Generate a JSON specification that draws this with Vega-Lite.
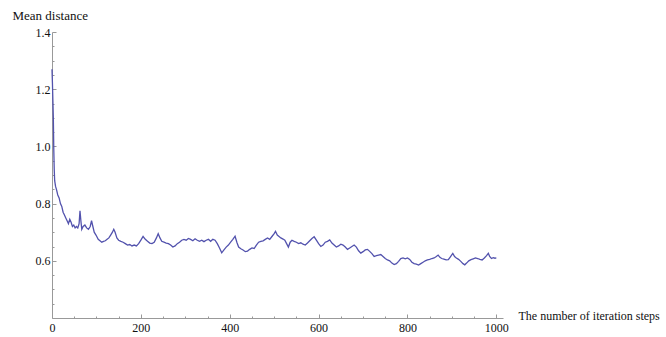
{
  "$schema": "https://vega.github.io/schema/vega-lite/v6.json",
  "autosize": "none",
  "width": 451,
  "height": 286,
  "padding": {"left": 52, "top": 32, "right": 163, "bottom": 19},
  "background": "white",
  "config": {"view": {"stroke": null}, "font": "Liberation Serif"},
  "data": {"values": [
    {"it":0,"d":1.27},{"it":1,"d":1.22},{"it":2,"d":1.16},{"it":3,"d":1.10},{"it":4,"d":0.99},{"it":5,"d":0.92},{"it":6,"d":0.88},{"it":8,"d":0.86},{"it":10,"d":0.85},{"it":13,"d":0.83},{"it":16,"d":0.82},{"it":19,"d":0.80},{"it":22,"d":0.79},{"it":25,"d":0.77},{"it":28,"d":0.76},{"it":31,"d":0.75},{"it":34,"d":0.74},{"it":37,"d":0.73},{"it":40,"d":0.745},{"it":43,"d":0.735},{"it":46,"d":0.72},{"it":49,"d":0.725},{"it":52,"d":0.715},{"it":55,"d":0.72},{"it":58,"d":0.715},{"it":61,"d":0.73},{"it":63,"d":0.775},{"it":65,"d":0.74},{"it":67,"d":0.71},{"it":70,"d":0.72},{"it":74,"d":0.725},{"it":78,"d":0.715},{"it":82,"d":0.71},{"it":86,"d":0.72},{"it":89,"d":0.74},{"it":92,"d":0.72},{"it":95,"d":0.70},{"it":99,"d":0.69},{"it":104,"d":0.675},{"it":108,"d":0.67},{"it":112,"d":0.665},{"it":116,"d":0.668},{"it":120,"d":0.67},{"it":124,"d":0.675},{"it":128,"d":0.68},{"it":132,"d":0.69},{"it":136,"d":0.70},{"it":139,"d":0.71},{"it":142,"d":0.70},{"it":146,"d":0.68},{"it":150,"d":0.672},{"it":155,"d":0.668},{"it":160,"d":0.665},{"it":165,"d":0.66},{"it":170,"d":0.655},{"it":175,"d":0.657},{"it":180,"d":0.652},{"it":185,"d":0.655},{"it":190,"d":0.652},{"it":195,"d":0.66},{"it":200,"d":0.672},{"it":205,"d":0.685},{"it":210,"d":0.675},{"it":215,"d":0.668},{"it":220,"d":0.662},{"it":225,"d":0.66},{"it":230,"d":0.665},{"it":235,"d":0.68},{"it":239,"d":0.695},{"it":243,"d":0.68},{"it":247,"d":0.668},{"it":252,"d":0.665},{"it":257,"d":0.662},{"it":262,"d":0.66},{"it":267,"d":0.655},{"it":272,"d":0.648},{"it":277,"d":0.652},{"it":282,"d":0.66},{"it":287,"d":0.665},{"it":292,"d":0.672},{"it":297,"d":0.675},{"it":302,"d":0.672},{"it":307,"d":0.678},{"it":312,"d":0.675},{"it":317,"d":0.67},{"it":322,"d":0.677},{"it":327,"d":0.672},{"it":332,"d":0.668},{"it":337,"d":0.672},{"it":342,"d":0.667},{"it":347,"d":0.672},{"it":352,"d":0.675},{"it":357,"d":0.668},{"it":362,"d":0.675},{"it":367,"d":0.672},{"it":372,"d":0.66},{"it":377,"d":0.645},{"it":382,"d":0.628},{"it":387,"d":0.638},{"it":392,"d":0.648},{"it":397,"d":0.655},{"it":402,"d":0.665},{"it":407,"d":0.675},{"it":412,"d":0.686},{"it":416,"d":0.665},{"it":420,"d":0.648},{"it":425,"d":0.642},{"it":430,"d":0.638},{"it":435,"d":0.632},{"it":440,"d":0.634},{"it":445,"d":0.64},{"it":450,"d":0.645},{"it":455,"d":0.643},{"it":460,"d":0.655},{"it":465,"d":0.665},{"it":470,"d":0.668},{"it":475,"d":0.67},{"it":480,"d":0.675},{"it":485,"d":0.68},{"it":490,"d":0.675},{"it":495,"d":0.685},{"it":500,"d":0.695},{"it":503,"d":0.703},{"it":507,"d":0.69},{"it":511,"d":0.685},{"it":515,"d":0.68},{"it":520,"d":0.676},{"it":524,"d":0.672},{"it":528,"d":0.66},{"it":532,"d":0.648},{"it":536,"d":0.665},{"it":540,"d":0.672},{"it":545,"d":0.668},{"it":550,"d":0.665},{"it":555,"d":0.66},{"it":560,"d":0.663},{"it":565,"d":0.658},{"it":570,"d":0.655},{"it":575,"d":0.662},{"it":580,"d":0.67},{"it":585,"d":0.678},{"it":590,"d":0.684},{"it":595,"d":0.672},{"it":600,"d":0.66},{"it":605,"d":0.65},{"it":610,"d":0.655},{"it":615,"d":0.665},{"it":620,"d":0.668},{"it":625,"d":0.673},{"it":630,"d":0.662},{"it":635,"d":0.655},{"it":640,"d":0.648},{"it":645,"d":0.652},{"it":650,"d":0.658},{"it":655,"d":0.655},{"it":660,"d":0.648},{"it":665,"d":0.64},{"it":670,"d":0.645},{"it":675,"d":0.65},{"it":680,"d":0.655},{"it":685,"d":0.648},{"it":690,"d":0.635},{"it":695,"d":0.627},{"it":700,"d":0.632},{"it":705,"d":0.638},{"it":710,"d":0.64},{"it":715,"d":0.633},{"it":720,"d":0.625},{"it":725,"d":0.615},{"it":730,"d":0.618},{"it":735,"d":0.62},{"it":740,"d":0.622},{"it":745,"d":0.615},{"it":750,"d":0.608},{"it":755,"d":0.603},{"it":760,"d":0.6},{"it":765,"d":0.592},{"it":770,"d":0.587},{"it":775,"d":0.59},{"it":780,"d":0.598},{"it":785,"d":0.608},{"it":790,"d":0.61},{"it":795,"d":0.607},{"it":800,"d":0.61},{"it":805,"d":0.605},{"it":810,"d":0.595},{"it":815,"d":0.59},{"it":820,"d":0.588},{"it":825,"d":0.585},{"it":830,"d":0.59},{"it":835,"d":0.595},{"it":840,"d":0.6},{"it":845,"d":0.603},{"it":850,"d":0.605},{"it":855,"d":0.608},{"it":860,"d":0.61},{"it":865,"d":0.615},{"it":869,"d":0.62},{"it":873,"d":0.612},{"it":877,"d":0.608},{"it":882,"d":0.606},{"it":887,"d":0.603},{"it":892,"d":0.604},{"it":897,"d":0.615},{"it":902,"d":0.626},{"it":906,"d":0.615},{"it":910,"d":0.61},{"it":915,"d":0.605},{"it":920,"d":0.598},{"it":925,"d":0.59},{"it":929,"d":0.586},{"it":933,"d":0.592},{"it":938,"d":0.6},{"it":943,"d":0.604},{"it":948,"d":0.607},{"it":953,"d":0.61},{"it":958,"d":0.608},{"it":963,"d":0.605},{"it":968,"d":0.603},{"it":973,"d":0.61},{"it":978,"d":0.618},{"it":982,"d":0.626},{"it":985,"d":0.615},{"it":989,"d":0.608},{"it":993,"d":0.611},{"it":997,"d":0.609},{"it":1000,"d":0.61}
  ]},
  "mark": {"type": "line", "color": "#5252ad", "strokeWidth": 1.3, "interpolate": "linear"},
  "encoding": {
    "x": {
      "field": "it", "type": "quantitative",
      "scale": {"domain": [0, 1015], "nice": false, "zero": false},
      "axis": {
        "values": [0,50,100,150,200,250,300,350,400,450,500,550,600,650,700,750,800,850,900,950,1000],
        "labelExpr": "datum.value % 200 === 0 ? format(datum.value, 'd') : ''",
        "grid": false,
        "domainColor": "#999999",
        "tickColor": "#999999",
        "tickSize": {"condition": {"test": "datum.value % 200 === 0", "value": -4}, "value": -2},
        "labelPadding": 8,
        "labelFont": "Liberation Serif", "labelFontSize": 12, "labelColor": "#111111",
        "labelFlush": false, "labelOverlap": false,
        "title": "The number of iteration steps",
        "titleFont": "Liberation Serif", "titleFontSize": 12, "titleFontWeight": "normal", "titleColor": "#111111",
        "titleAnchor": null, "titleAlign": "left", "titleBaseline": "alphabetic",
        "titleX": 466, "titleY": 1
      }
    },
    "y": {
      "field": "d", "type": "quantitative",
      "scale": {"domain": [0.4, 1.4], "nice": false, "zero": false},
      "axis": {
        "values": [0.45,0.5,0.55,0.6,0.65,0.7,0.75,0.8,0.85,0.9,0.95,1.0,1.05,1.1,1.15,1.2,1.25,1.3,1.35,1.4],
        "labelExpr": "(abs(datum.value*5 - round(datum.value*5)) < 0.001) ? format(datum.value, '.1f') : ''",
        "grid": false,
        "domainColor": "#999999",
        "tickColor": "#999999",
        "tickSize": {"condition": {"test": "abs(datum.value*5 - round(datum.value*5)) < 0.001", "value": -4}, "value": -2},
        "labelPadding": 6,
        "labelFont": "Liberation Serif", "labelFontSize": 12, "labelColor": "#111111",
        "labelFlush": false, "labelOverlap": false,
        "title": "Mean distance",
        "titleFont": "Liberation Serif", "titleFontSize": 13, "titleFontWeight": "normal", "titleColor": "#111111",
        "titleAngle": 0, "titleAnchor": null, "titleAlign": "left", "titleBaseline": "alphabetic",
        "titleX": -40, "titleY": -13
      }
    }
  }
}
